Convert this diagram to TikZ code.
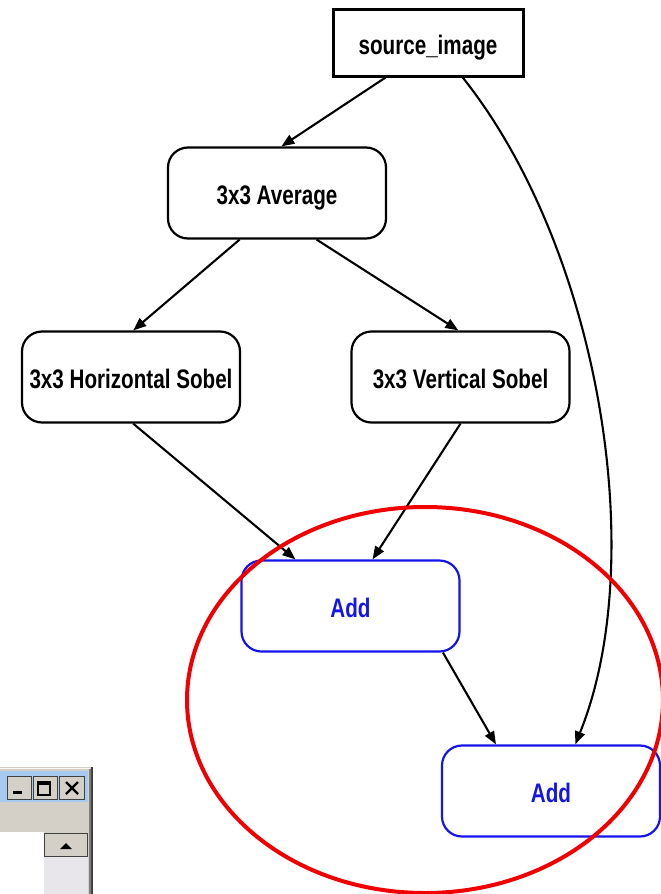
\documentclass[tikz,border=0pt]{standalone}
\usepackage{fontspec}
\setmainfont{Liberation Sans}[FakeStretch=0.77]
\usetikzlibrary{arrows.meta,calc}
\definecolor{addblue}{RGB}{20,20,235}
\definecolor{ringred}{RGB}{240,0,0}
\definecolor{winface}{RGB}{212,208,200}
\definecolor{wintitle}{RGB}{166,202,240}
\definecolor{wintrack}{RGB}{232,230,234}
\definecolor{winshadow}{RGB}{128,128,128}
\definecolor{windark}{RGB}{64,64,64}
\begin{document}
\begin{tikzpicture}[x=1pt,y=-1pt,
  lbl/.style={font=\fontsize{26.8}{30}\selectfont\bfseries,
    text height=27pt, text depth=4pt},
  flowbox/.style={lbl, draw, line width=2.2pt, rounded corners=20pt,
    minimum width=218pt, minimum height=91pt, inner sep=0pt},
  addbox/.style={flowbox, draw=addblue, text=addblue},
  srcbox/.style={lbl, draw, line width=3pt, minimum width=190pt,
    minimum height=67pt, inner sep=0pt},
  edge/.style={line width=2.1pt, -{Triangle[length=13pt,width=10pt]}},
  winbtn/.style={fill=winface, draw=windark, line width=1pt},
  glyph/.style={fill=black}]

% canvas
\fill[white] (0,0) rectangle (661,894);
\useasboundingbox (0,0) rectangle (661,894);

% graph nodes
\node[srcbox]  (src)  at (428,42.5) {source\_image};
\node[flowbox] (avg)  at (277,193)  {3x3 Average};
\node[flowbox] (hs)   at (131,377)  {3x3 Horizontal Sobel};
\node[flowbox] (vs)   at (460.5,377){3x3 Vertical Sobel};
\node[addbox]  (add1) at (350.5,606){Add};
\node[addbox]  (add2) at (551,791)  {Add};

% connectors
\draw[edge] ($(src.south west)!0.28!(src.south east)$) -- ($(avg.north west)!0.52!(avg.north east)$);
\draw[edge] ($(src.south west)!0.68!(src.south east)$)
  .. controls (600,250) and (650,560) .. ($(add2.north west)!0.61!(add2.north east)$);
\draw[edge] ($(avg.south west)!0.33!(avg.south east)$) -- ($(hs.north west)!0.51!(hs.north east)$);
\draw[edge] ($(avg.south west)!0.68!(avg.south east)$) -- ($(vs.north west)!0.49!(vs.north east)$);
\draw[edge] ($(hs.south west)!0.51!(hs.south east)$) -- ($(add1.north west)!0.25!(add1.north east)$);
\draw[edge] ($(vs.south west)!0.50!(vs.south east)$) -- ($(add1.north west)!0.60!(add1.north east)$);
\draw[edge] ($(add1.south west)!0.92!(add1.south east)$) -- ($(add2.north west)!0.25!(add2.north east)$);

% highlight ring
\draw[ringred, line width=4pt] (425,700) ellipse [x radius=238, y radius=193];

% window corner, bottom left
\fill[winface] (0,767) rectangle (92,894);
\draw[line width=1pt, white!85!winface] (0,768) -- (90,768);
\fill[windark] (91,767) rectangle (93,894);
\fill[winshadow] (89,769) rectangle (91,894);
\fill[wintitle] (0,771) rectangle (88,802);
% caption buttons
\draw[winbtn] (7,776) rectangle (31,799);
\draw[winbtn] (33,776) rectangle (57,799);
\draw[winbtn] (59,776) rectangle (84,799);
\fill[glyph] (13,791) rectangle (22,794);
\draw[line width=1.3pt] (38,782) rectangle (50,795);
\fill[glyph] (37.4,781.4) rectangle (50.6,784.5);
\draw[line width=2.4pt] (66,782) -- (78,794) (78,782) -- (66,794);
% client area and scroll bar
\fill[white] (0,832) rectangle (44,894);
\fill[wintrack] (44,856) rectangle (88,894);
\draw[winbtn] (44.5,833) rectangle (87.5,856);
\fill[glyph] (60,849) -- (72,849) -- (66,843) -- cycle;
\end{tikzpicture}
\end{document}
